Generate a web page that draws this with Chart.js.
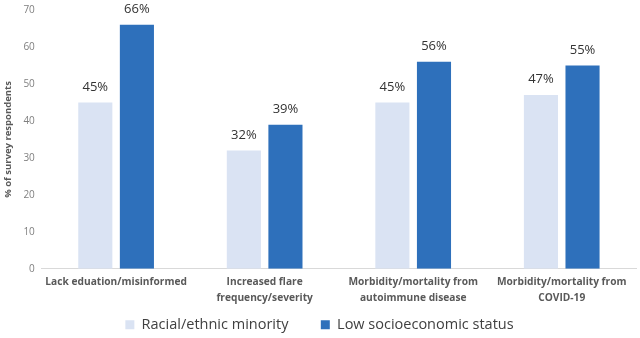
<!DOCTYPE html>
<html>
<head>
<meta charset="utf-8">
<script src="https://cdn.jsdelivr.net/npm/chart.js@4"></script>
<style>
  html, body { margin: 0; padding: 0; background: #fff; }
  #wrap { width: 640px; height: 338px; }
</style>
</head>
<body>
<div id="wrap"><canvas id="myChart"></canvas></div>
<script>
// chart data
const categories = [
  "Lack eduation/misinformed",
  ["Increased flare", "frequency/severity"],
  ["Morbidity/mortality from", "autoimmune disease"],
  ["Morbidity/mortality from", "COVID-19"]
];
const minorityValues = [45, 32, 45, 47];
const lowSesValues = [66, 39, 56, 55];
const yTicks = [0, 10, 20, 30, 40, 50, 60, 70];

// little plugin to write the % over each bar
const valueLabels = {
  id: "valueLabels",
  afterDatasetsDraw(chart) {
    const ctx = chart.ctx;
    ctx.save();
    ctx.font = "13px 'Open Sans', sans-serif";
    ctx.fillStyle = "#333";
    ctx.textAlign = "center";
    ctx.textBaseline = "bottom";
    chart.data.datasets.forEach((ds, i) => {
      chart.getDatasetMeta(i).data.forEach((bar, j) => {
        ctx.fillText(ds.data[j] + "%", bar.x, bar.y - 9);
      });
    });
    ctx.restore();
  }
};

// pull the legend a bit lower than chart.js puts it
const legendShift = {
  id: "legendShift",
  beforeInit(chart) {
    const fit = chart.legend.fit;
    chart.legend.fit = function () {
      fit.bind(chart.legend)();
      this.height -= 4;
    };
  }
};

new Chart("myChart", {
  type: "bar",
  data: {
    labels: categories,
    datasets: [
      { label: "Racial/ethnic minority", data: minorityValues, backgroundColor: "#dae3f3" },
      { label: "Low socioeconomic status", data: lowSesValues, backgroundColor: "#2e70bb" }
    ]
  },
  options: {
    responsive: true,
    maintainAspectRatio: false,
    animation: false,
    layout: { padding: { top: 10, right: 4, left: 3, bottom: 0 } },
    datasets: { bar: { categoryPercentage: 0.56, barPercentage: 0.82 } },
    scales: {
      x: {
        grid: { display: false, drawTicks: false },
        border: { display: true, color: "#d9d9d9" },
        ticks: {
          color: "#595959",
          font: { family: "'Open Sans', sans-serif", size: 10.2, weight: "bold", lineHeight: 1.6 },
          maxRotation: 0,
          autoSkip: false,
          padding: 5
        }
      },
      y: {
        min: 0,
        max: 70,
        afterBuildTicks(axis) { axis.ticks = yTicks.map(v => ({ value: v })); },
        grid: { display: false, drawTicks: false },
        border: { display: false },
        ticks: {
          color: "#7f7f7f",
          font: { family: "'Open Sans', sans-serif", size: 10, lineHeight: 0.4 },
          padding: 7
        },
        title: {
          display: true,
          text: "% of survey respondents",
          color: "#595959",
          font: { family: "'Open Sans', sans-serif", size: 9.5, weight: "bold" },
          padding: { top: 0, bottom: 2 }
        }
      }
    },
    plugins: {
      legend: {
        position: "bottom",
        labels: {
          boxWidth: 9,
          boxHeight: 9,
          padding: 6,
          color: "#404040",
          font: { family: "'Open Sans', sans-serif", size: 14.5 },
          generateLabels(chart) {
            const items = Chart.defaults.plugins.legend.labels.generateLabels(chart);
            // extra room after the first entry, as in the source
            items[0].text += "       ";
            return items;
          }
        }
      },
      tooltip: { enabled: false }
    }
  },
  plugins: [valueLabels, legendShift]
});
</script>
</body>
</html>
